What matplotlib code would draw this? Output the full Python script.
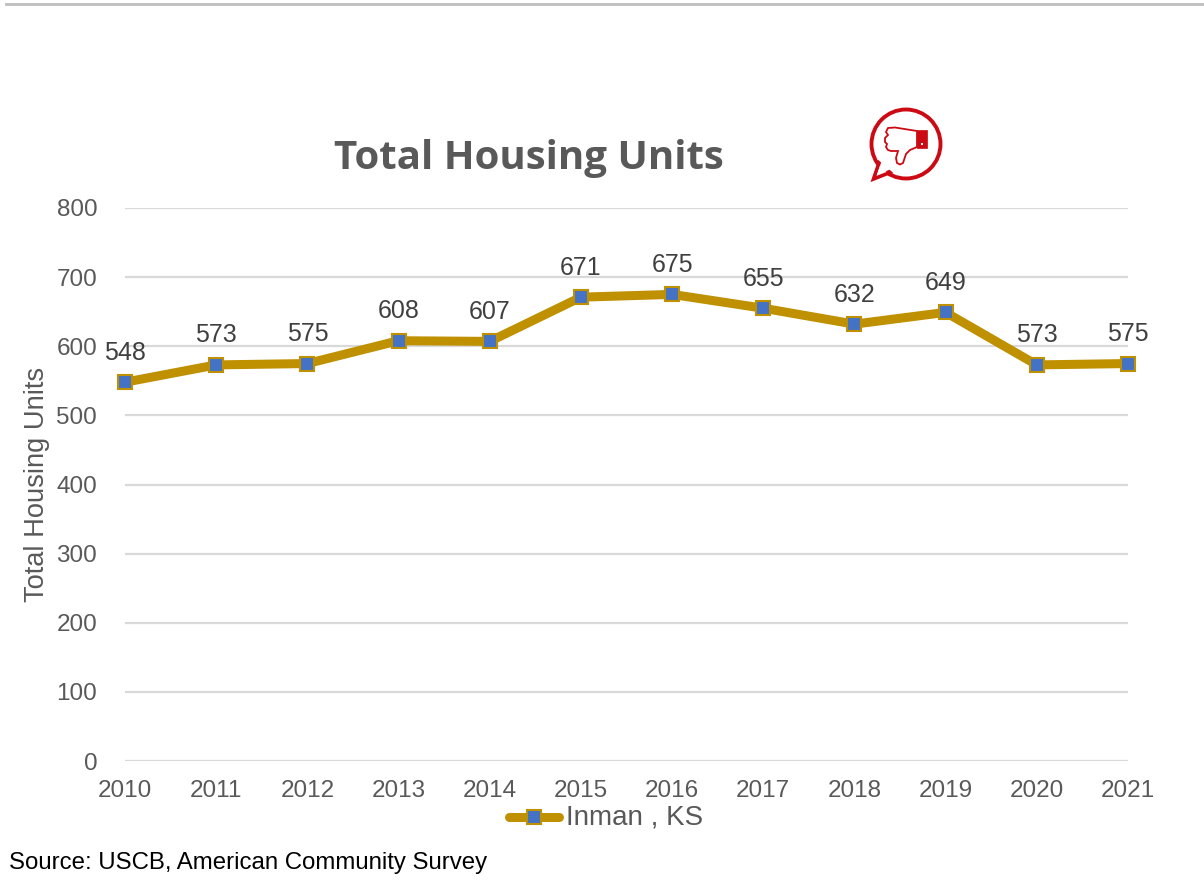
import matplotlib
matplotlib.use("Agg")
import matplotlib.pyplot as plt
from matplotlib.patches import Circle, Polygon, Rectangle

# values
years = [2010, 2011, 2012, 2013, 2014, 2015, 2016, 2017, 2018, 2019, 2020, 2021]
units = [548, 573, 575, 608, 607, 671, 675, 655, 632, 649, 573, 575]
y_ticks = [0, 100, 200, 300, 400, 500, 600, 700, 800]

W, H = 1204, 883
plt.rcParams['font.family'] = ['Liberation Sans', 'DejaVu Sans']

fig = plt.figure(figsize=(W / 100, H / 100), dpi=100)
ax = fig.add_axes([125 / W, 1 - 761 / H, (1128 - 125) / W, (761 - 208) / H])

ax.plot(years, units, color='#BF9000', lw=6.5, solid_capstyle='round', solid_joinstyle='round',
        marker='s', ms=9.5, mfc='#4472C4', mec='#BF9000', mew=1.5, clip_on=False,
        label='Inman , KS', zorder=3)

for x, y in zip(years, units):
    ax.annotate(str(y), (x, y), xytext=(0, 21.2), textcoords='offset points', ha='center', va='center',
                fontsize=18, color='#404040', zorder=4)

ax.set_xlim(2010, 2021)
ax.set_ylim(0, 800)
ax.set_xticks(years)
ax.set_yticks(y_ticks)
ax.grid(axis='y', color='#D9D9D9', lw=1.6)
ax.set_axisbelow(True)
for s in ax.spines.values():
    s.set_visible(False)
ax.tick_params(length=0, labelsize=17.5, labelcolor='#595959')
ax.tick_params(axis='x', pad=13.5)
ax.tick_params(axis='y', pad=20)

fig.text(37 / W, 1 - 484 / H, 'Total Housing Units', rotation=90, ha='center', va='center',
         fontsize=19.6, color='#595959')
fig.text(529 / W, 1 - 159 / H, 'Total Housing Units', ha='center', va='center', fontsize=29,
         fontweight='bold', family=['Open Sans', 'DejaVu Sans'], color='#595959')
fig.text(9 / W, 1 - 862.5 / H, 'Source: USCB, American Community Survey', ha='left', va='center',
         fontsize=17.3, color='black')

# overlay in pixel coordinates for legend key, top rule and thumb icon
ov = fig.add_axes([0, 0, 1, 1], facecolor='none')
ov.set_xlim(0, W)
ov.set_ylim(H, 0)
ov.axis('off')

ov.plot([6, W], [4, 4], color='#BFBFBF', lw=2)

ov.plot([508.5, 558.5], [817, 817], color='#BF9000', lw=6.5, solid_capstyle='round')
ov.plot([534], [817], marker='s', ms=9.5, mfc='#4472C4', mec='#BF9000', mew=1.5)
ov.text(566, 818, 'Inman , KS', ha='left', va='center', fontsize=20, color='#595959')

red = '#CC0A14'
ov.add_patch(Circle((906, 144), 34.5, fc='white', ec=red, lw=2.8))
ov.add_patch(Polygon([[879, 163], [873.5, 179], [890, 172.5]], closed=True, fc='white', ec=red, lw=2.6,
                     joinstyle='miter'))
ov.add_patch(Polygon([[882, 160], [877, 175], [891, 169], [899, 172], [884, 160]], closed=True, fc='white', ec='none'))
hand = [[917, 131], [895, 127.5], [888, 128], [886, 132], [888, 135], [885, 138], [885, 142], [887, 144],
        [886, 147], [888, 150], [891, 151], [898, 151], [896, 158], [897, 163], [900, 164.5], [903, 163],
        [906, 154], [910, 150], [917, 147]]
ov.add_patch(Polygon(hand, closed=True, fc='white', ec=red, lw=1.3))
ov.add_patch(Rectangle((917, 130), 10, 18, fc=red, ec=red, lw=0.5))
ov.add_patch(Rectangle((921, 143), 2, 2, fc='white', ec='none'))

fig.savefig('out.png', dpi=100)
